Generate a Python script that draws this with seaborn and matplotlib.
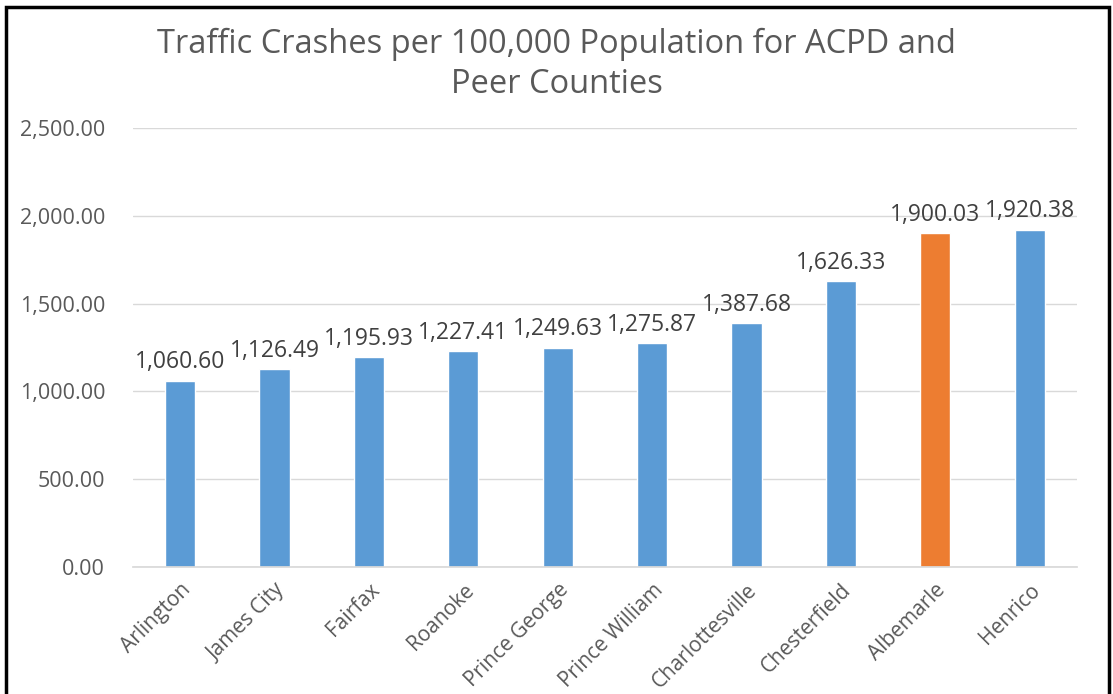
import matplotlib
matplotlib.use("Agg")
import matplotlib.pyplot as plt
import seaborn as sns
import pandas as pd
from matplotlib.patches import Rectangle

categories = ["Arlington", "James City", "Fairfax", "Roanoke", "Prince George",
              "Prince William", "Charlottesville", "Chesterfield", "Albemarle", "Henrico"]
values = [1060.60, 1126.49, 1195.93, 1227.41, 1249.63, 1275.87, 1387.68, 1626.33, 1900.03, 1920.38]
yticks = [0, 500, 1000, 1500, 2000, 2500]
title = "Traffic Crashes per 100,000 Population for ACPD and\nPeer Counties"

sns.set_theme(style="white")
plt.rcParams['font.family'] = ['Open Sans', 'DejaVu Sans']

df = pd.DataFrame({"county": categories, "rate": values})
colors = ["#ED7D31" if c == "Albemarle" else "#5B9BD5" for c in categories]

fig = plt.figure(figsize=(11.13, 6.94), dpi=100)
ax = fig.add_axes([0.1195, 0.183, 0.848, 0.6326])
sns.barplot(data=df, x="county", y="rate", hue="county", palette=colors,
            legend=False, width=0.32, ax=ax, saturation=1)

ax.set_ylim(0, 2500)
ax.set_yticks(yticks)
ax.set_yticklabels([f"{v:,.2f}" for v in yticks], color="#595959", fontsize=15.5)
ax.yaxis.grid(True, color="#D9D9D9", linewidth=1)
ax.set_axisbelow(True)
ax.tick_params(axis="y", length=0, pad=20)
ax.tick_params(axis="x", length=0, pad=9)
ax.set_xticks(range(len(categories)))
ax.set_xticklabels(categories, rotation=45, ha="right", rotation_mode="anchor",
                   color="#595959", fontsize=15)
ax.set_xlabel("")
ax.set_ylabel("")
for s in ["top", "right", "left"]:
    ax.spines[s].set_visible(False)
ax.spines["bottom"].set_color("#D9D9D9")
ax.set_xlim(-0.5, len(categories) - 0.5)

for i, v in enumerate(values):
    ax.text(i, v + 70, f"{v:,.2f}", ha="center", va="baseline", fontsize=16.5, color="#404040")

fig.text(0.5, 0.96, title, ha="center", va="top", fontsize=23.5, color="#595959",
         linespacing=1.3)

fig.patches.append(Rectangle((0.0055, -0.05), 0.9905, 1.04, transform=fig.transFigure,
                             fill=False, edgecolor="black", linewidth=2.5))

fig.savefig("out.png", dpi=100, facecolor="white")
